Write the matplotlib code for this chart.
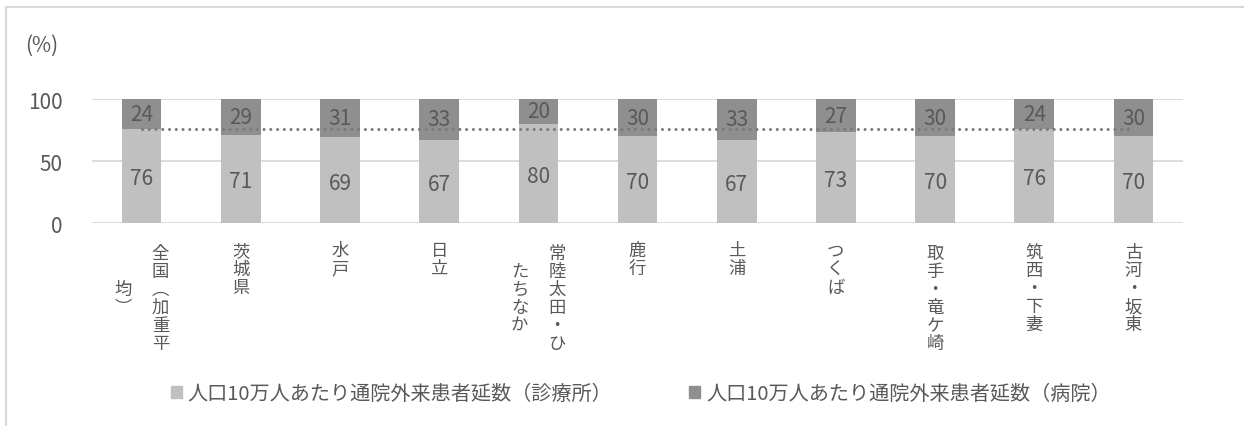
import matplotlib.pyplot as plt
from matplotlib.lines import Line2D
from matplotlib.patches import Patch

plt.rcParams['font.family'] = ['Noto Sans CJK JP', 'DejaVu Sans']

# 二次医療圏別 通院外来患者延数の構成比
areas = ['全国︵加重平均︶', '茨城県', '水戸', '日立', '常陸太田・ひたちなか',
         '鹿行', '土浦', 'つくば', '取手・竜ケ崎', '筑西・下妻', '古河・坂東']
clinic = [76, 71, 69, 67, 80, 70, 67, 73, 70, 76, 70]
hospital = [24, 29, 31, 33, 20, 30, 33, 27, 30, 24, 30]
national_avg = 76

c_clinic = '#c0c0c0'
c_hosp = '#8f8f8f'
c_text = '#595959'

fig = plt.figure(figsize=(12.44, 4.27), dpi=100)
ax = fig.add_axes([0.074, 0.4754, 0.877, 0.2904])

x = list(range(len(areas)))
ax.bar(x, clinic, width=0.4, color=c_clinic, zorder=2)
ax.bar(x, hospital, width=0.4, bottom=clinic, color=c_hosp, zorder=2)
ax.plot(x, [national_avg] * len(x), color='#7a7a7a', lw=2.2,
        linestyle=(0, (0.01, 2.2)), dash_capstyle='round', zorder=3)

for i in x:
    ax.text(i, clinic[i] / 2 - 2, str(clinic[i]), ha='center', va='center',
            fontsize=15, color=c_text, zorder=4)
    ax.text(i, clinic[i] + hospital[i] / 2, str(hospital[i]), ha='center',
            va='center', fontsize=15, color=c_text, zorder=4)

ax.set_xlim(-0.5, len(areas) - 0.5)
ax.set_ylim(0, 100)
ax.set_yticks([0, 50, 100])
ax.tick_params(axis='y', length=0, pad=21, labelsize=15, labelcolor=c_text)
ax.set_xticks([])
ax.grid(axis='y', color='#d9d9d9', lw=1.3, zorder=0)
for s in ax.spines.values():
    s.set_visible(False)

# 縦書きラベル（6文字で折り返し、右の列から）
pitch = 14.0
for i, name in enumerate(areas):
    cols = [name[k:k + 6] for k in range(0, len(name), 6)]
    n = len(cols)
    block = 6 * pitch if n > 1 else len(cols[0]) * pitch
    for j, col in enumerate(cols):
        dx = (n - 1) * 13.5 - j * 27
        ax.annotate('\n'.join(col), xy=(i, 0), xycoords=('data', 'axes fraction'),
                    xytext=(dx, -12 - block / 2), textcoords='offset points',
                    ha='center', va='center', fontsize=12.5, color=c_text,
                    linespacing=1.0, annotation_clip=False)

fig.text(0.02, 0.893, '(%)', fontsize=15, color=c_text, va='center')

handles = [Patch(color=c_clinic, label='人口10万人あたり通院外来患者延数（診療所）'),
           Patch(color=c_hosp, label='人口10万人あたり通院外来患者延数（病院）')]
fig.legend(handles=handles, loc='center', bbox_to_anchor=(0.515, 0.075), ncol=2,
           frameon=False, fontsize=14.5, labelcolor=c_text, handlelength=0.55,
           handleheight=0.55, handletextpad=0.3, columnspacing=3.8)

# 外枠（上と左）
fig.add_artist(Line2D([0.005, 1.0], [0.981, 0.981], color='#d9d9d9', lw=1.5,
                      transform=fig.transFigure))
fig.add_artist(Line2D([0.005, 0.005], [0.0, 0.981], color='#d9d9d9', lw=1.5,
                      transform=fig.transFigure))

fig.savefig('out.png', dpi=100)
